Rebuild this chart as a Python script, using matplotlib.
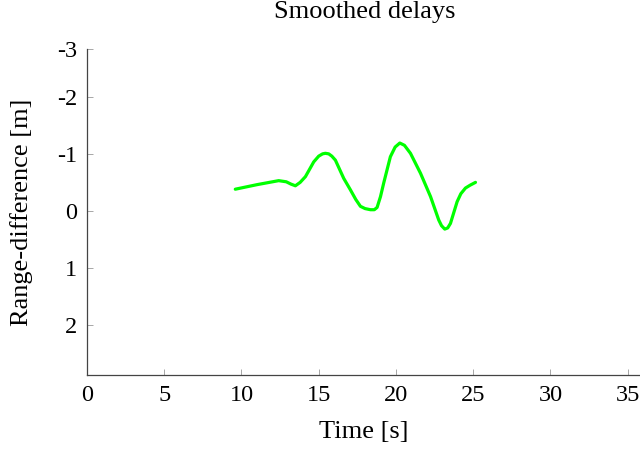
import matplotlib
matplotlib.use('Agg')
import matplotlib.pyplot as plt

plt.rcParams['font.family'] = ['Liberation Serif', 'DejaVu Serif']

# smoothed range-difference
time_s = [9.60, 11.01, 12.41, 12.9, 13.2, 13.49, 13.8, 14.14, 14.68, 15.0,
          15.25, 15.43, 15.65, 15.85, 16.08, 16.62, 17.05, 17.40, 17.70, 18.0,
          18.35, 18.6, 18.78, 19.0, 19.21, 19.64, 19.95, 20.25, 20.55, 20.94,
          21.59, 22.24, 22.77, 22.95, 23.16, 23.35, 23.53, 23.96, 24.2, 24.50,
          24.8, 25.15]
range_diff = [-0.38, -0.46, -0.53, -0.51, -0.47, -0.44, -0.50, -0.60, -0.86, -0.96,
              -1.00, -1.01, -1.00, -0.96, -0.89, -0.57, -0.37, -0.20, -0.08, -0.04,
              -0.02, -0.02, -0.06, -0.25, -0.49, -0.95, -1.12, -1.19, -1.15, -1.01,
              -0.66, -0.25, 0.16, 0.26, 0.32, 0.30, 0.22, -0.16, -0.30, -0.40,
              -0.45, -0.50]

x_ticks = [0, 5, 10, 15, 20, 25, 30, 35]
y_tick_labels = ['-3', '-2', '-1', '0', '1', '2']
y_top = -2.84
y_bottom = 2.88

fig = plt.figure(figsize=(6.4, 4.53), dpi=100)
ax = fig.add_axes([87 / 640, 1 - 375 / 453, 1 - 87 / 640, (375 - 49) / 453])

ax.plot(time_s, range_diff, color='#00ff00', linewidth=2.3,
        solid_capstyle='round', solid_joinstyle='round')

ax.set_xlim(0, 35.8)
ax.set_ylim(y_bottom, y_top)
ax.set_xticks(x_ticks)
ax.set_xticklabels([str(t) for t in x_ticks])
ax.set_yticks([y_top, -2, -1, 0, 1, 2])
ax.set_yticklabels(y_tick_labels)

for side in ['top', 'right']:
    ax.spines[side].set_visible(False)
for side in ['left', 'bottom']:
    ax.spines[side].set_color('#444444')
    ax.spines[side].set_linewidth(0.9)
ax.tick_params(direction='in', length=4, width=0.6, color='#999999', labelsize=17.5)
ax.tick_params(axis='x', pad=7)
ax.tick_params(axis='y', pad=7)

ax.set_xlabel('Time [s]', fontsize=19, labelpad=11)
ax.set_ylabel('Range-difference [m]', fontsize=19, labelpad=17)
fig.text(365 / 640, 1 - 12 / 453, 'Smoothed delays', ha='center', va='center', fontsize=19)

fig.savefig('out.png', dpi=100)
